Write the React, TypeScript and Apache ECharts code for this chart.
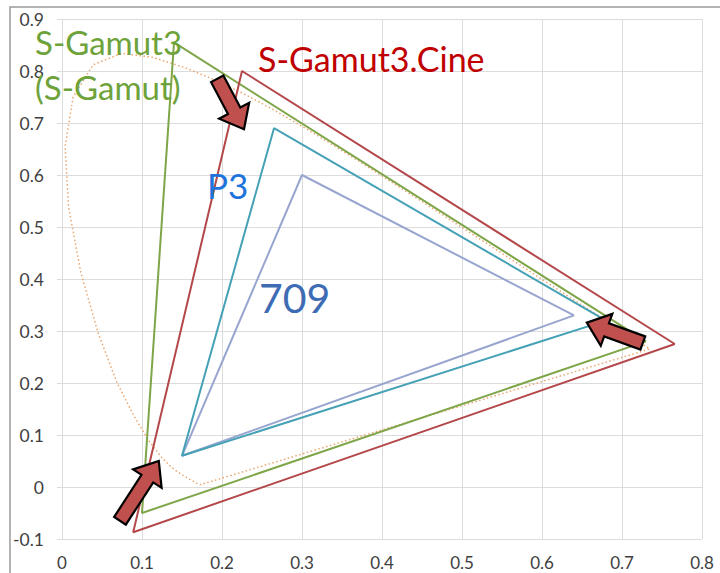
import React, { useEffect, useRef } from "react";
import * as echarts from "echarts";

const xTicks = [0, 0.1, 0.2, 0.3, 0.4, 0.5, 0.6, 0.7, 0.8];
const yTicks = [-0.1, 0, 0.1, 0.2, 0.3, 0.4, 0.5, 0.6, 0.7, 0.8, 0.9];

// gamut primaries: R, G, B
const sGamut3 = [[0.73, 0.28], [0.14, 0.855], [0.1, -0.05]];
const sGamut3Cine = [[0.766, 0.275], [0.225, 0.8], [0.089, -0.087]];
const p3 = [[0.68, 0.32], [0.265, 0.69], [0.15, 0.06]];
const rec709 = [[0.64, 0.33], [0.3, 0.6], [0.15, 0.06]];

// spectral locus (CIE 1931), 380..680 nm
const locus = [
  [0.1741, 0.005], [0.1738, 0.0049], [0.1733, 0.0048], [0.1726, 0.0048],
  [0.1714, 0.0051], [0.1703, 0.0058], [0.1689, 0.0069], [0.1669, 0.0086],
  [0.1644, 0.0109], [0.1611, 0.0138], [0.1566, 0.0177], [0.151, 0.0227],
  [0.144, 0.0297], [0.1355, 0.0399], [0.1241, 0.0578], [0.1096, 0.0868],
  [0.0913, 0.1327], [0.0687, 0.2007], [0.0454, 0.295], [0.0235, 0.4127],
  [0.0082, 0.5384], [0.0039, 0.6548], [0.0139, 0.7502], [0.0389, 0.812],
  [0.0743, 0.8338], [0.1142, 0.8262], [0.1547, 0.8059], [0.1929, 0.7816],
  [0.2296, 0.7543], [0.2658, 0.7243], [0.3016, 0.6923], [0.3373, 0.6589],
  [0.3731, 0.6245], [0.4087, 0.5896], [0.4441, 0.5547], [0.4788, 0.5202],
  [0.5125, 0.4866], [0.5448, 0.4544], [0.5752, 0.4242], [0.6029, 0.3965],
  [0.627, 0.3725], [0.6482, 0.3514], [0.6658, 0.334], [0.6801, 0.3197],
  [0.6915, 0.3083], [0.7006, 0.2993], [0.7079, 0.292], [0.714, 0.2859],
  [0.719, 0.2809], [0.723, 0.277], [0.726, 0.274], [0.7283, 0.2717],
  [0.73, 0.27], [0.7347, 0.2653], [0.1741, 0.005],
];

// arrows: [tailX, tailY, tipX, tipY] in data coords
const arrows = [
  [0.194, 0.785, 0.2275, 0.688],
  [0.0725, -0.065, 0.121, 0.05],
  [0.726, 0.277, 0.656, 0.316],
];

const labels = [
  { text: "S-Gamut3\n(S-Gamut)", x: 35, y: 64, color: "#6ea23a", size: 33, lh: 45 },
  { text: "S-Gamut3.Cine", x: 258, y: 58, color: "#c00000", size: 34, lh: 36 },
  { text: "P3", x: 207, y: 185, color: "#1f74dc", size: 35, lh: 36 },
  { text: "709", x: 259, y: 297, color: "#3e6cb4", size: 41, lh: 42 },
];

const closed = (pts: number[][]) => [...pts, pts[0]];

function arrowPoints(tail: number[], tip: number[]) {
  const dx = tip[0] - tail[0];
  const dy = tip[1] - tail[1];
  const len = Math.sqrt(dx * dx + dy * dy);
  const ux = dx / len, uy = dy / len;
  const nx = -uy, ny = ux;
  const w = 7, W = 17, L = 21;
  const bx = tip[0] - ux * L, by = tip[1] - uy * L;
  return [
    [tail[0] + nx * w, tail[1] + ny * w],
    [bx + nx * w, by + ny * w],
    [bx + nx * W, by + ny * W],
    [tip[0], tip[1]],
    [bx - nx * W, by - ny * W],
    [bx - nx * w, by - ny * w],
    [tail[0] - nx * w, tail[1] - ny * w],
  ];
}

export default function App() {
  const ref = useRef<HTMLDivElement>(null);
  useEffect(() => {
    if (!ref.current) return;
    const chart = echarts.init(ref.current, undefined, { renderer: "svg" });
    const font = "Lato, 'Open Sans', sans-serif";
    const lineSeries = (name: string, data: number[][], color: string, type: any = "solid", width = 2, z = 3) => ({
      name,
      type: "line",
      data,
      showSymbol: false,
      symbol: "none",
      z,
      lineStyle: { color, width, type },
      silent: true,
    });
    chart.setOption({
      animation: false,
      backgroundColor: "#ffffff",
      grid: { left: 62, right: 18, top: 19, bottom: 34, containLabel: false },
      xAxis: {
        type: "value",
        min: 0,
        max: 0.8,
        interval: 0.1,
        axisLine: { show: false },
        axisTick: { show: false },
        splitLine: { show: true, lineStyle: { color: "#dcdcdc", width: 1 } },
        axisLabel: {
          margin: 16,
          fontSize: 17,
          lineHeight: 15,
          color: "#404040",
          fontFamily: font,
          formatter: (v: number) => String(Math.round(v * 10) / 10),
        },
      },
      yAxis: {
        type: "value",
        min: -0.1,
        max: 0.9,
        interval: 0.1,
        axisLine: { show: true, lineStyle: { color: "#dcdcdc" } },
        axisTick: { show: true, length: 5, lineStyle: { color: "#dcdcdc" } },
        splitLine: { show: true, lineStyle: { color: "#dcdcdc", width: 1 } },
        axisLabel: {
          margin: 18,
          fontSize: 17.5,
          color: "#404040",
          fontFamily: font,
          formatter: (v: number) => String(Math.round(v * 10) / 10),
        },
      },
      series: [
        lineSeries("locus", locus, "#eba66f", [1.5, 2.5], 1.5, 2),
        lineSeries("709", closed(rec709), "#97a5cf"),
        lineSeries("P3", closed(p3), "#45a1b5"),
        lineSeries("S-Gamut3", closed(sGamut3), "#7ea548"),
        lineSeries("S-Gamut3.Cine", closed(sGamut3Cine), "#b4474a"),
      ],
    });

    const arrowGraphics = arrows.map((a, i) => {
      const tail = chart.convertToPixel({ gridIndex: 0 }, [a[0], a[1]]) as number[];
      const tip = chart.convertToPixel({ gridIndex: 0 }, [a[2], a[3]]) as number[];
      return {
        type: "polygon",
        id: "arrow" + i,
        z: 100,
        shape: { points: arrowPoints(tail, tip) },
        style: { fill: "#c0504d", stroke: "#000000", lineWidth: 2.2, lineJoin: "miter" },
      };
    });
    const textGraphics = labels.map((l, i) => ({
      type: "text",
      id: "label" + i,
      z: 90,
      x: l.x,
      y: l.y,
      style: {
        text: l.text,
        fill: l.color,
        fontSize: l.size,
        lineHeight: l.lh,
        fontFamily: font,
        textAlign: "left",
        textVerticalAlign: "middle",
      },
    }));
    chart.setOption({
      graphic: [
        {
          type: "rect",
          id: "border",
          z: 50,
          shape: { x: 10, y: 7, width: 720, height: 600 },
          style: { fill: "none", stroke: "#9a9a9a", lineWidth: 1.5 },
        },
        ...textGraphics,
        ...arrowGraphics,
      ],
    });
    return () => chart.dispose();
  }, []);
  return (
    <div
      ref={ref}
      style={{ position: "fixed", left: 0, top: 0, width: 720, height: 573 }}
    />
  );
}
